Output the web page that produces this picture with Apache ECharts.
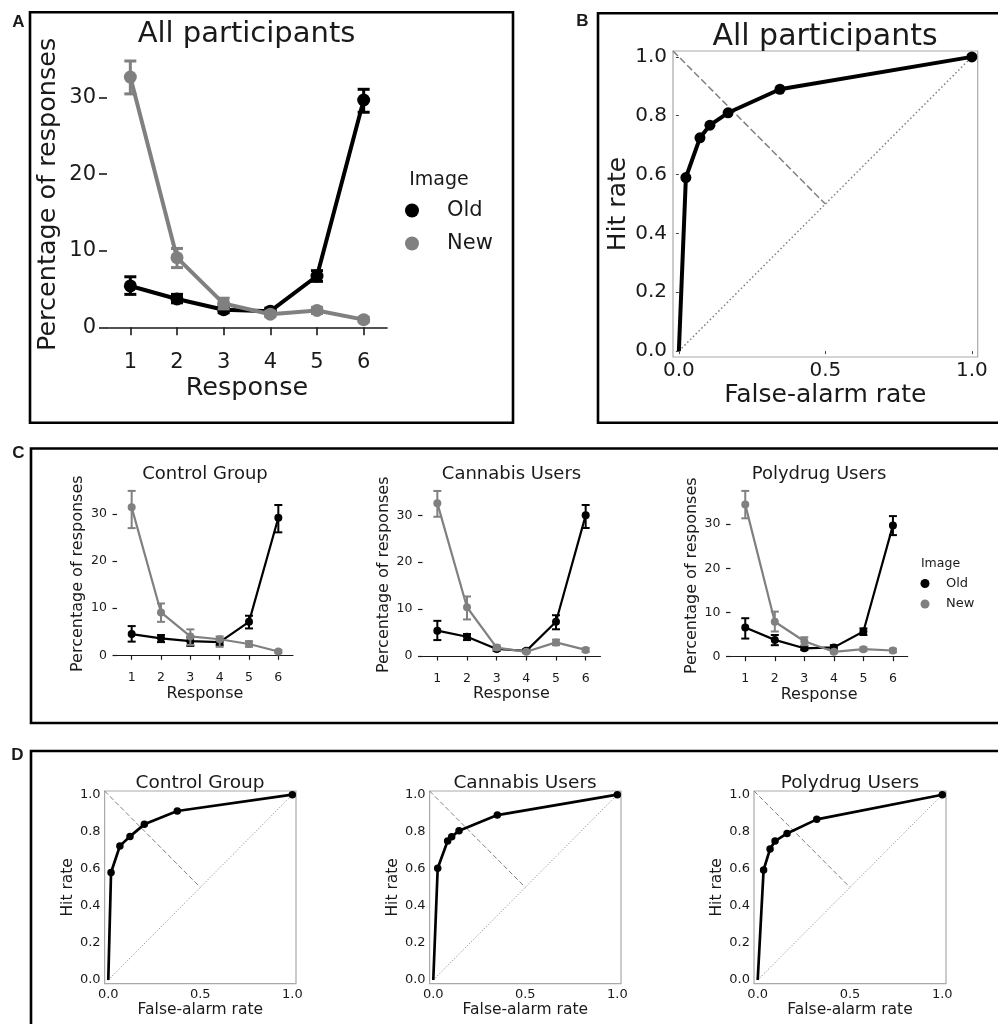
<!DOCTYPE html>
<html><head><meta charset="utf-8">
<script src="https://cdn.jsdelivr.net/npm/echarts@6/dist/echarts.min.js"></script>
<style>html,body{margin:0;padding:0;background:#fff}#c{width:998px;height:1024px}</style>
</head><body><div id="c"></div>
<script>
// ---------------- data ----------------
const responses = ['1', '2', '3', '4', '5', '6'];
const pctTicks = [0, 10, 20, 30];
const rateTicksY = [0, 0.2, 0.4, 0.6, 0.8, 1.0];
const rateTicksX = [0, 0.5, 1.0];

// Panel A: all participants
const allOld   = [5.4, 3.7, 2.3, 2.1, 6.7, 29.7];
const allOldLo = [4.3, 3.2, 1.9, 1.7, 6.0, 28.1];
const allOldHi = [6.6, 4.3, 2.8, 2.5, 7.4, 31.1];
const allNew   = [32.7, 9.1, 3.1, 1.7, 2.2, 1.0];
const allNewLo = [30.5, 7.8, 2.4, 1.4, 1.8, 0.7];
const allNewHi = [34.8, 10.3, 3.8, 2.1, 2.6, 1.3];

// Panel C: groups
const ctrlOld   = [4.5, 3.6, 3.0, 2.8, 7.1, 29.2];
const ctrlOldLo = [2.9, 2.8, 2.0, 2.2, 5.7, 26.1];
const ctrlOldHi = [6.2, 4.3, 3.8, 3.4, 8.4, 31.9];
const ctrlNew   = [31.4, 9.1, 4.0, 3.4, 2.4, 0.8];
const ctrlNewLo = [27.0, 7.1, 2.2, 1.8, 1.8, 0.5];
const ctrlNewHi = [34.9, 11.0, 5.5, 4.0, 3.0, 1.1];

const cannOld   = [5.4, 4.1, 1.5, 1.1, 7.3, 30.0];
const cannOldLo = [3.4, 3.4, 1.1, 0.8, 5.7, 27.3];
const cannOldHi = [7.5, 4.7, 1.9, 1.5, 8.7, 32.2];
const cannNew   = [32.6, 10.4, 1.8, 0.9, 2.9, 1.3];
const cannNewLo = [29.7, 7.8, 1.3, 0.6, 2.3, 0.9];
const cannNewHi = [35.2, 12.7, 2.3, 1.2, 3.5, 1.7];

const polyOld   = [6.6, 3.8, 1.9, 2.1, 5.7, 29.7];
const polyOldLo = [4.1, 2.6, 1.5, 1.6, 4.9, 27.5];
const polyOldHi = [8.7, 4.9, 2.4, 2.6, 6.4, 31.8];
const polyNew   = [34.4, 7.9, 3.5, 1.1, 1.7, 1.4];
const polyNewLo = [31.3, 5.7, 2.6, 0.8, 1.3, 1.0];
const polyNewHi = [37.5, 10.2, 4.4, 1.4, 2.1, 1.8];

// ROC curves (false-alarm rate, hit rate)
const allFA   = [0, 0.024, 0.072, 0.106, 0.168, 0.345, 1];
const allHit  = [0, 0.59, 0.725, 0.768, 0.81, 0.89, 1];
const ctrlFA  = [0, 0.015, 0.063, 0.118, 0.196, 0.375, 1];
const ctrlHit = [0, 0.58, 0.723, 0.775, 0.84, 0.912, 1];
const cannFA  = [0, 0.024, 0.078, 0.100, 0.140, 0.348, 1];
const cannHit = [0, 0.603, 0.75, 0.773, 0.806, 0.89, 1];
const polyFA  = [0, 0.032, 0.067, 0.094, 0.159, 0.32, 1];
const polyHit = [0, 0.594, 0.707, 0.75, 0.791, 0.867, 1];
const chanceLine = [[0, 0], [1, 1]];
const minorDiag = [[-0.02, 1.02], [0.5, 0.5]];

// ---------------- styling / layout ----------------
const FONT = 'DejaVu Sans';
const TXT = '#1a1a1a';
const BLACK = '#000000';
const GRAY = '#808080';

const grids = [
  {left: 107,   top: 51.8,  width: 280,   height: 285.2}, // 0 A
  {left: 673,   top: 51,    width: 304.7, height: 306},   // 1 B
  {left: 117,   top: 485.7, width: 176,   height: 176},   // 2 C1
  {left: 422.5, top: 487.2, width: 178,   height: 175.1}, // 3 C2
  {left: 730.5, top: 488.7, width: 177.2, height: 174},   // 4 C3
  {left: 104.6, top: 791,   width: 191.4, height: 192.7}, // 5 D1
  {left: 429.6, top: 791,   width: 191.4, height: 192.7}, // 6 D2
  {left: 754,   top: 791,   width: 192,   height: 192.7}  // 7 D3
].map((g, i) => Object.assign({outerBoundsMode: 'none', containLabel: false},
  g, (i === 1 || i >= 5) ? {show: true, borderColor: '#a9a9a9', borderWidth: 1.2} : {}));

const xAxes = [], yAxes = [], series = [];

function catAxes(gi, s) {
  xAxes.push({
    gridIndex: gi, type: 'category', data: responses, boundaryGap: true,
    axisLine: {show: true, lineStyle: {color: TXT, width: s.axW}},
    axisTick: {show: true, alignWithLabel: true, interval: 0, length: s.tick, lineStyle: {color: TXT, width: s.axW}},
    axisLabel: {show: true, interval: 0, fontFamily: FONT, fontSize: s.tickFs, color: TXT, margin: s.xMargin},
    splitLine: {show: false},
    name: 'Response', nameLocation: 'middle', nameGap: s.xGap,
    nameTextStyle: {fontFamily: FONT, fontSize: s.nameFs, color: TXT}
  });
  yAxes.push({
    gridIndex: gi, type: 'value', min: s.ymin, max: s.ymax,
    axisLine: {show: false},
    axisTick: {show: true, length: s.tick, customValues: pctTicks, lineStyle: {color: TXT, width: s.axW}},
    axisLabel: {show: true, customValues: pctTicks, fontFamily: FONT, fontSize: s.tickFs, color: TXT, margin: s.yMargin},
    splitLine: {show: false},
    name: 'Percentage of responses', nameLocation: 'middle', nameGap: s.yGap,
    nameTextStyle: {fontFamily: FONT, fontSize: s.nameFs, color: TXT}
  });
}

function rocAxes(gi, s) {
  xAxes.push({
    gridIndex: gi, type: 'value', min: -0.02, max: 1.02,
    axisLine: {show: false},
    axisTick: {show: s.tick > 0, length: s.tick, customValues: rateTicksX, lineStyle: {color: '#444', width: 1}},
    axisLabel: {show: true, customValues: rateTicksX, formatter: v => v.toFixed(1),
      fontFamily: FONT, fontSize: s.tickFs, color: TXT, margin: s.xMargin},
    splitLine: {show: false},
    name: 'False-alarm rate', nameLocation: 'middle', nameGap: s.xGap,
    nameTextStyle: {fontFamily: FONT, fontSize: s.nameFs, color: TXT}
  });
  yAxes.push({
    gridIndex: gi, type: 'value', min: -0.02, max: 1.02,
    axisLine: {show: false},
    axisTick: {show: s.tick > 0, length: s.tick, customValues: rateTicksY, lineStyle: {color: '#444', width: 1}},
    axisLabel: {show: true, customValues: rateTicksY, formatter: v => v.toFixed(1),
      fontFamily: FONT, fontSize: s.tickFs, color: TXT, margin: s.yMargin},
    splitLine: {show: false},
    name: 'Hit rate', nameLocation: 'middle', nameGap: s.yGap,
    nameTextStyle: {fontFamily: FONT, fontSize: s.nameFs, color: TXT}
  });
}

function errSeries(gi, lo, hi, color, lw, cap, z) {
  return {
    type: 'custom', xAxisIndex: gi, yAxisIndex: gi, silent: true, z: z,
    data: lo.map((l, i) => [i, l, hi[i]]),
    encode: {x: 0, y: [1, 2]},
    renderItem: (params, api) => {
      const a = api.coord([api.value(0), api.value(1)]);
      const b = api.coord([api.value(0), api.value(2)]);
      const st = {stroke: color, lineWidth: lw, fill: null};
      return {type: 'group', children: [
        {type: 'line', shape: {x1: a[0], y1: a[1], x2: b[0], y2: b[1]}, style: st},
        {type: 'line', shape: {x1: a[0] - cap, y1: a[1], x2: a[0] + cap, y2: a[1]}, style: st},
        {type: 'line', shape: {x1: b[0] - cap, y1: b[1], x2: b[0] + cap, y2: b[1]}, style: st}
      ]};
    }
  };
}

function lineSeries(gi, name, vals, color, s, z) {
  return {
    type: 'line', name: name, xAxisIndex: gi, yAxisIndex: gi, data: vals,
    symbol: 'circle', symbolSize: s.sym, showSymbol: true, silent: true, z: z,
    lineStyle: {color: color, width: s.lw}, itemStyle: {color: color}
  };
}

function respPanel(gi, old, oldLo, oldHi, nw, nwLo, nwHi, s) {
  catAxes(gi, s);
  series.push(lineSeries(gi, 'Old', old, BLACK, s, 2));
  series.push(errSeries(gi, oldLo, oldHi, BLACK, s.ew, s.cap, 3));
  series.push(lineSeries(gi, 'New', nw, GRAY, s, 4));
  series.push(errSeries(gi, nwLo, nwHi, GRAY, s.ew, s.cap, 5));
}

function rocPanel(gi, fa, hit, s) {
  rocAxes(gi, s);
  series.push({type: 'line', xAxisIndex: gi, yAxisIndex: gi, data: chanceLine, symbol: 'none', silent: true, z: 1,
    lineStyle: {color: GRAY, width: s.refW, type: s.dot}});
  series.push({type: 'line', xAxisIndex: gi, yAxisIndex: gi, data: minorDiag, symbol: 'none', silent: true, z: 1,
    lineStyle: {color: GRAY, width: s.refW, type: s.dash}});
  series.push({type: 'line', xAxisIndex: gi, yAxisIndex: gi, silent: true, z: 3,
    data: fa.map((x, i) => ({value: [x, hit[i]], symbolSize: i === 0 ? 0 : s.sym})),
    symbol: 'circle', showSymbol: true,
    lineStyle: {color: BLACK, width: s.lw}, itemStyle: {color: BLACK}});
}

const bigResp = {ymin: -1.27, ymax: 36, axW: 1.6, tick: 8, tickFs: 21, xMargin: 15, yMargin: 11,
  xGap: 38, yGap: 46, nameFs: 25.5, sym: 13, lw: 4, ew: 3, cap: 6};
const smallResp = {ymin: -1.36, ymax: 36, axW: 1.2, tick: 4.5, tickFs: 12.5, xMargin: 10, yMargin: 10,
  xGap: 23, yGap: 31, nameFs: 16, sym: 8, lw: 2.2, ew: 2, cap: 4};
respPanel(0, allOld, allOldLo, allOldHi, allNew, allNewLo, allNewHi, bigResp);
rocPanel(1, allFA, allHit, {tick: 3, tickFs: 20, xMargin: 4, yMargin: 6, xGap: 26, yGap: 42, nameFs: 25,
  sym: 11, lw: 4, refW: 1.5, dot: [1.5, 2.5], dash: [7, 3]});
respPanel(2, ctrlOld, ctrlOldLo, ctrlOldHi, ctrlNew, ctrlNewLo, ctrlNewHi, smallResp);
respPanel(3, cannOld, cannOldLo, cannOldHi, cannNew, cannNewLo, cannNewHi, Object.assign({}, smallResp, {ymin: -1.34}));
respPanel(4, polyOld, polyOldLo, polyOldHi, polyNew, polyNewLo, polyNewHi, Object.assign({}, smallResp, {ymax: 38}));
const smallRoc = {tick: 0, tickFs: 13, xMargin: 4, yMargin: 4, xGap: 17, yGap: 25, nameFs: 15.5,
  sym: 7.5, lw: 2.7, refW: 1, dot: [1, 2], dash: [5, 2.5]};
rocPanel(5, ctrlFA, ctrlHit, smallRoc);
rocPanel(6, cannFA, cannHit, smallRoc);
rocPanel(7, polyFA, polyHit, smallRoc);

// ---------------- free text & frames ----------------
function txt(x, y, text, size, weight, family) {
  return {type: 'text', x: x, y: y, silent: true, z: 10,
    style: {text: text, fill: TXT, font: (weight || 'normal') + ' ' + size + 'px "' + (family || FONT) + '"',
      align: 'center', verticalAlign: 'middle', textAlign: 'center', textVerticalAlign: 'middle'}};
}
function frame(x, y, w, h) {
  return {type: 'rect', silent: true, z: 0, shape: {x: x, y: y, width: w, height: h},
    style: {fill: null, stroke: '#000', lineWidth: 2.6}};
}
const graphics = [
  frame(30, 12.3, 483, 410.5),
  frame(598, 13.3, 430, 409.5),
  frame(31, 448.5, 1000, 274.5),
  frame(31, 751, 1000, 300),
  txt(18.5, 22.5, 'A', 17, 'bold', 'Liberation Sans'),
  txt(582.5, 21.5, 'B', 17, 'bold', 'Liberation Sans'),
  txt(18.5, 453.5, 'C', 17, 'bold', 'Liberation Sans'),
  txt(17.5, 755.5, 'D', 17, 'bold', 'Liberation Sans'),
  txt(246.5, 34.5, 'All participants', 29),
  txt(825, 37.5, 'All participants', 30),
  txt(205, 474, 'Control Group', 18),
  txt(511.5, 474, 'Cannabis Users', 18),
  txt(819, 474, 'Polydrug Users', 18),
  txt(200, 783, 'Control Group', 18.5),
  txt(525, 783, 'Cannabis Users', 18.5),
  txt(850, 783, 'Polydrug Users', 18.5),
  txt(439, 180, 'Image', 19),
  txt(940.5, 564, 'Image', 12.5)
];

const option = {
  animation: false,
  backgroundColor: '#ffffff',
  grid: grids,
  xAxis: xAxes,
  yAxis: yAxes,
  legend: [
    {data: ['Old', 'New'], orient: 'vertical', left: 400, top: 195, icon: 'circle',
      itemWidth: 14, itemHeight: 14, itemGap: 12, selectedMode: false,
      textStyle: {fontFamily: FONT, fontSize: 21, color: TXT, padding: [0, 0, 0, 23]}},
    {data: ['Old', 'New'], orient: 'vertical', left: 915.5, top: 572, icon: 'circle',
      itemWidth: 9, itemHeight: 9, itemGap: 7.5, selectedMode: false,
      textStyle: {fontFamily: FONT, fontSize: 13, color: TXT, padding: [0, 0, 0, 11.5]}}
  ],
  graphic: {elements: graphics},
  series: series
};

const chart = echarts.init(document.getElementById('c'), null, {renderer: 'canvas'});
chart.setOption(option);
</script>
</body></html>
